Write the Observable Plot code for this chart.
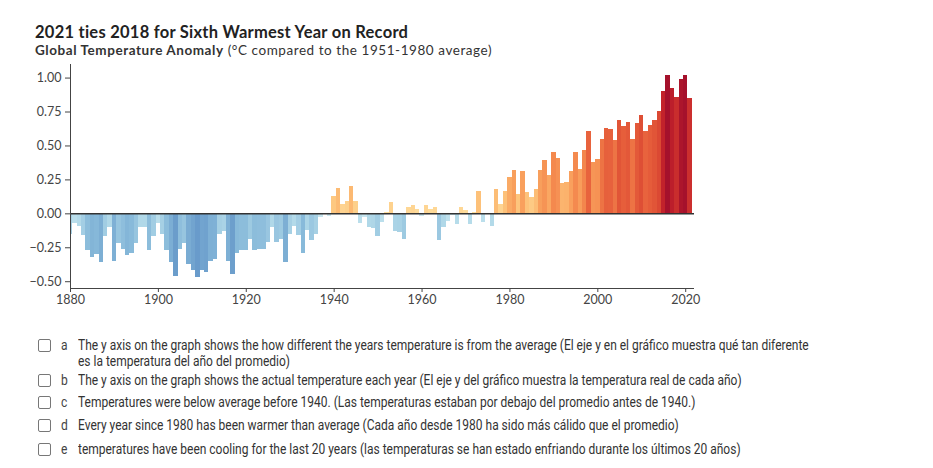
<!DOCTYPE html>
<html>
<head>
<meta charset="utf-8">
<script src="https://cdn.jsdelivr.net/npm/d3@7"></script>
<script src="https://cdn.jsdelivr.net/npm/@observablehq/plot@0.6"></script>
<style>
  html, body { margin: 0; padding: 0; background: #fff; }
  #page { position: relative; width: 933px; height: 468px; overflow: hidden; }
  #title { position: absolute; left: 35px; top: 22px; font: 700 16.5px Lato, sans-serif; letter-spacing: 0.25px; color: #222; white-space: nowrap; }
  #subtitle { position: absolute; left: 35px; top: 42px; font: 400 13.5px Lato, sans-serif; letter-spacing: 0.56px; color: #333; white-space: nowrap; }
  #subtitle b { font-weight: 700; }
  #chart { position: absolute; left: 0; top: 0; }
  .row { position: absolute; left: 0; width: 933px; font: 400 14px Roboto, sans-serif; color: #333; }
  .box { position: absolute; left: 38px; width: 11px; height: 11px; border: 1px solid #777; border-radius: 2px; background: #fff; }
  .letter { position: absolute; left: 61px; color: #444; transform: scaleX(0.86); transform-origin: left; }
  .txt { position: absolute; left: 78px; white-space: nowrap; transform: scaleX(0.856); transform-origin: left; }
</style>
</head>
<body>
<div id="page">
  <div id="chart"></div>
  <div id="title"></div>
  <div id="subtitle"></div>
  <div id="list"></div>
</div>
<script>
// ---- data ----
const firstYear = 1880;
const anomalies = [
  -0.15, -0.07, -0.09, -0.16, -0.27, -0.32, -0.30, -0.355, -0.17, -0.10, // 1880-1889
  -0.35, -0.22, -0.26, -0.31, -0.29, -0.22, -0.10, -0.10, -0.27, -0.17, // 1890-1899
  -0.07, -0.15, -0.27, -0.36, -0.46, -0.26, -0.22, -0.37, -0.42, -0.47, // 1900-1909
  -0.42, -0.43, -0.35, -0.34, -0.15, -0.13, -0.35, -0.45, -0.29, -0.27, // 1910-1919
  -0.27, -0.19, -0.27, -0.26, -0.26, -0.21, -0.10, -0.21, -0.19, -0.355, // 1920-1929
  -0.15, -0.09, -0.16, -0.29, -0.12, -0.20, -0.15, -0.03, -0.005, -0.02, // 1930-1939
  0.13, 0.19, 0.07, 0.09, 0.20, 0.09, -0.07, -0.025, -0.10, -0.11,      // 1940-1949
  -0.17, -0.065, 0.01, 0.08, -0.13, -0.14, -0.19, 0.05, 0.06, 0.03,     // 1950-1959
  -0.02, 0.06, 0.03, 0.05, -0.20, -0.10, -0.055, -0.015, -0.08, 0.05,   // 1960-1969
  0.025, -0.08, 0.01, 0.165, -0.065, -0.005, -0.09, 0.18, 0.07, 0.165,  // 1970-1979
  0.265, 0.32, 0.145, 0.315, 0.16, 0.12, 0.18, 0.32, 0.39, 0.28,        // 1980-1989
  0.455, 0.405, 0.22, 0.23, 0.315, 0.45, 0.33, 0.465, 0.61, 0.38,       // 1990-1999
  0.40, 0.545, 0.63, 0.62, 0.54, 0.69, 0.64, 0.67, 0.545, 0.665,        // 2000-2009
  0.725, 0.61, 0.65, 0.69, 0.755, 0.90, 1.02, 0.925, 0.86, 0.99,        // 2010-2019
  1.02, 0.85                                                             // 2020-2021
];
const years = anomalies.map((_, i) => firstYear + i);
const yTicks = [-0.5, -0.25, 0, 0.25, 0.5, 0.75, 1.0];
const xTicks = [1880, 1900, 1920, 1940, 1960, 1980, 2000, 2020];
const colorStops = [-0.5, -0.3, -0.1, -0.01, 0.01, 0.15, 0.3, 0.45, 0.6, 0.75, 0.9, 1.02];
const colorRange = ["#6496c8", "#86b8d9", "#b0d8e8", "#cde9f1", "#fedf9f", "#fdc47c", "#f9a25e", "#f48a4f", "#e9653e", "#dc4a33", "#c2222b", "#a5112c"];

const titleText = "2021 ties 2018 for Sixth Warmest Year on Record";
const subtitleBold = "Global Temperature Anomaly";
const subtitleRest = " (°C compared to the 1951-1980 average)";

const options = [
  {letter: "a", lines: ["The y axis on the graph shows the how different the years temperature is from the average (El eje y en el gráfico muestra qué tan diferente", "es la temperatura del año del promedio)"]},
  {letter: "b", lines: ["The y axis on the graph shows the actual temperature each year (El eje y del gráfico muestra la temperatura real de cada año)"]},
  {letter: "c", lines: ["Temperatures were below average before 1940. (Las temperaturas estaban por debajo del promedio antes de 1940.)"]},
  {letter: "d", lines: ["Every year since 1980 has been warmer than average (Cada año desde 1980 ha sido más cálido que el promedio)"]},
  {letter: "e", lines: ["temperatures have been cooling for the last 20 years (las temperaturas se han estado enfriando durante los últimos 20 años)"]}
];
const rowTops = [338, 373, 395, 418, 442];

// ---- headings ----
document.getElementById("title").textContent = titleText;
const sub = document.getElementById("subtitle");
const b = document.createElement("b"); b.textContent = subtitleBold;
sub.appendChild(b); sub.appendChild(document.createTextNode(subtitleRest));

// ---- chart ----
const data = years.map((year, i) => ({year, value: anomalies[i]}));
const chart = Plot.plot({
  width: 933,
  height: 310,
  marginLeft: 70,
  marginRight: 239,
  marginTop: 64,
  marginBottom: 22,
  style: {fontFamily: "Lato, sans-serif", fontSize: "12.5px", color: "#444", background: "transparent"},
  x: {domain: [1880, 2022], ticks: xTicks, tickFormat: "d", tickSize: 4, tickPadding: 3, label: null},
  y: {domain: [-0.55, 1.1], ticks: yTicks, tickFormat: ".2f", tickSize: 5, tickPadding: 4, label: null},
  color: {type: "linear", domain: colorStops, range: colorRange},
  marks: [
    Plot.rect(data, {x1: d => d.year - 0.5, x2: d => d.year + 0.5, y1: d => 0, y2: "value", fill: "value", clip: true, shapeRendering: "crispEdges"}),
    Plot.ruleY([0], {stroke: "#333", strokeWidth: 1.5}),
    Plot.ruleX([1880], {stroke: "#444"}),
    Plot.ruleY([-0.55], {stroke: "#444"})
  ]
});
document.getElementById("chart").appendChild(chart);

// ---- answer list ----
const list = document.getElementById("list");
options.forEach((o, i) => {
  const row = document.createElement("div");
  row.className = "row";
  row.style.top = rowTops[i] + "px";
  const box = document.createElement("div"); box.className = "box"; box.style.top = "1px";
  const letter = document.createElement("div"); letter.className = "letter"; letter.textContent = o.letter; letter.style.top = "-1px";
  row.appendChild(box); row.appendChild(letter);
  o.lines.forEach((line, j) => {
    const t = document.createElement("div"); t.className = "txt"; t.textContent = line; t.style.top = (j * 16 - 1) + "px";
    row.appendChild(t);
  });
  list.appendChild(row);
});
</script>
</body>
</html>
